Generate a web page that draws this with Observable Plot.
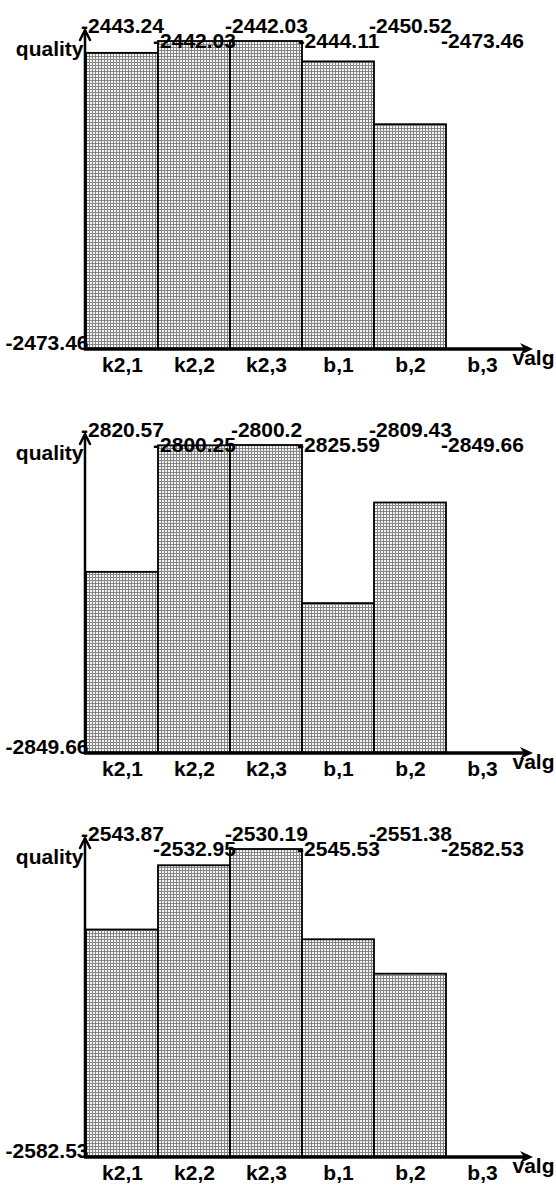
<!DOCTYPE html>
<html><head><meta charset="utf-8">
<script src="https://cdn.jsdelivr.net/npm/d3@7"></script>
<script src="https://cdn.jsdelivr.net/npm/@observablehq/plot@0.6"></script>
<style>body{margin:0;background:#fff;overflow:hidden} svg{display:block}</style>
</head><body><div id="chart"></div>
<script>
const categories = ["k2,1","k2,2","k2,3","b,1","b,2","b,3"];
const quality1 = [-2443.24,-2442.03,-2442.03,-2444.11,-2450.52,-2473.46];
const quality2 = [-2820.57,-2800.25,-2800.2,-2825.59,-2809.43,-2849.66];
const quality3 = [-2543.87,-2532.95,-2530.19,-2545.53,-2551.38,-2582.53];
const yLabel = "quality";
const xLabel = "valg";
const panels = [quality1, quality2, quality3];
const panelHeights = [404, 404, 378];

function panel(values, idx) {
  const data = categories.map((c, i) => ({cat: c, value: values[i], i}));
  const [lo, hi] = d3.extent(values);
  const h = panelHeights[idx];
  const plot = Plot.plot({
    width: 556, height: h,
    marginTop: 41, marginBottom: h - 349, marginLeft: 85, marginRight: 37,
    style: {fontFamily: "'Liberation Sans', Arial, sans-serif", fontSize: "21px", fontWeight: "bold", color: "black", background: "white", overflow: "visible"},
    x: {domain: categories, padding: 0, tickSize: 0, tickPadding: 8, label: null},
    y: {domain: [lo, hi], axis: null},
    marks: [
      Plot.barY(data, {x: "cat", y1: lo, y2: "value", fill: `url(#dots${idx})`, stroke: "black", strokeWidth: 1.8}),
      Plot.text(data.filter(d => d.i % 2 === 0), {x: "cat", text: d => String(d.value), frameAnchor: "top", dy: -23}),
      Plot.text(data.filter(d => d.i % 2 === 1), {x: "cat", text: d => String(d.value), frameAnchor: "top", dy: -8}),
      Plot.text([yLabel], {text: d => d, frameAnchor: "top-left", textAnchor: "end", dx: -2, dy: 0}),
      Plot.text([String(lo)], {text: d => d, frameAnchor: "bottom-left", textAnchor: "end", dx: 3}),
      Plot.text([xLabel], {text: d => d, frameAnchor: "bottom-right", textAnchor: "start", dx: -7, dy: 15})
    ]
  });
  const svg = d3.select(plot);
  const defs = svg.insert("defs", ":first-child");
  const pat = defs.append("pattern").attr("id", "dots" + idx)
    .attr("width", 3).attr("height", 3).attr("patternUnits", "userSpaceOnUse");
  pat.append("rect").attr("width", 3).attr("height", 3).attr("fill", "#858585");
  pat.append("rect").attr("width", 2).attr("height", 2).attr("fill", "#f4f4f4");

  const xr = plot.scale("x").range, yr = plot.scale("y").range;
  const x0 = xr[0], x1 = xr[1], yb = yr[0], yt = yr[1];
  const g = svg.append("g");
  const ytip = yt - 12;
  g.append("line").attr("x1", x0).attr("x2", x0).attr("y1", yb + 1).attr("y2", ytip + 1)
    .attr("stroke", "black").attr("stroke-width", 2.5);
  g.append("path").attr("d", `M${x0 - 5},${ytip + 11} L${x0},${ytip + 1} L${x0 + 5},${ytip + 11}`)
    .attr("fill", "none").attr("stroke", "black").attr("stroke-width", 2.5)
    .attr("stroke-linejoin", "round").attr("stroke-linecap", "round");
  const xtip = x1 + 14;
  g.append("line").attr("x1", x0 - 1).attr("x2", xtip - 4).attr("y1", yb).attr("y2", yb)
    .attr("stroke", "black").attr("stroke-width", 3.5);
  g.append("path").attr("d", `M${xtip},${yb} L${xtip - 13},${yb - 6} L${xtip - 9},${yb} L${xtip - 13},${yb + 6} Z`).attr("fill", "black");
  return plot;
}

const root = document.getElementById("chart");
panels.forEach((v, i) => root.appendChild(panel(v, i)));
</script>
</body></html>
